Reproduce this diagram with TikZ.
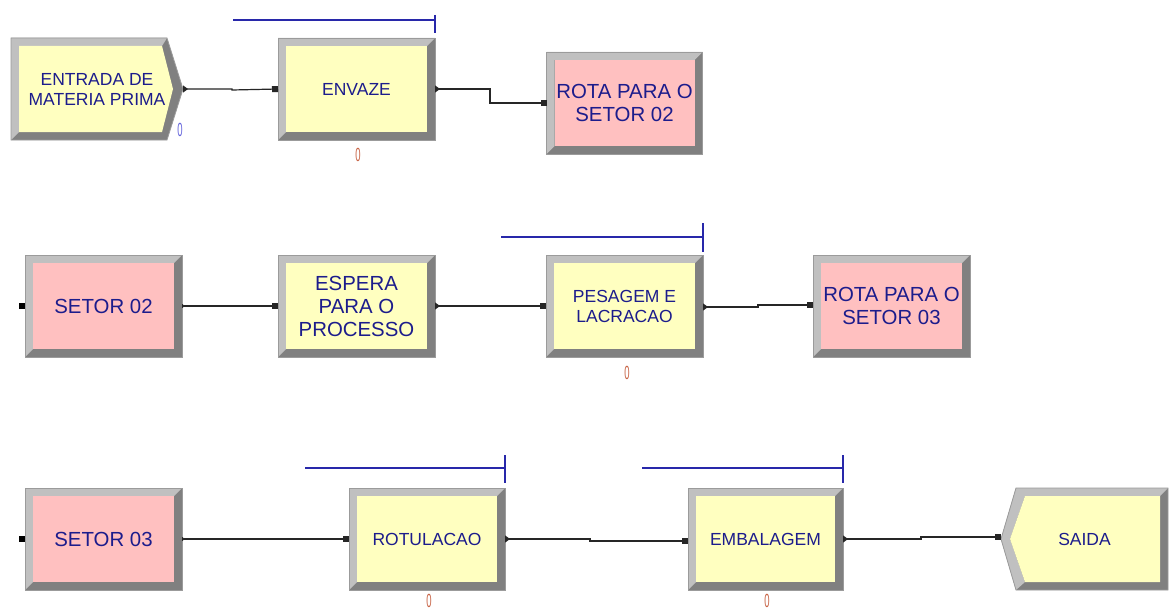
\documentclass[tikz,border=0pt]{standalone}
\usepackage{fontspec}
\setmainfont{Liberation Sans}
\usetikzlibrary{arrows.meta}
\definecolor{yel}{RGB}{255,255,192}
\definecolor{pnk}{RGB}{255,192,192}
\definecolor{ltgray}{RGB}{192,192,192}
\definecolor{dkgray}{RGB}{128,128,128}
\definecolor{edgegray}{RGB}{155,155,155}
\definecolor{txtblue}{RGB}{28,28,140}
\definecolor{qblue}{RGB}{40,40,170}
\definecolor{cntred}{RGB}{200,100,70}
\definecolor{cntblue}{RGB}{100,100,220}
\newcommand\mfsmall{\fontsize{17.5}{20}\selectfont}
\newcommand\mflarge{\fontsize{20.4}{23}\selectfont}
\tikzset{
  module/.style={rectangle, minimum width=157pt, minimum height=102pt, inner sep=0pt, outer sep=0pt,
    text=txtblue, align=center, draw=edgegray, line width=0.8pt,
    path picture={
      \fill[dkgray] (path picture bounding box.south west) rectangle (path picture bounding box.north east);
      \fill[ltgray] (path picture bounding box.south west) -- (path picture bounding box.north west)
        -- (path picture bounding box.north east) -- ([shift={(-8pt,-8pt)}]path picture bounding box.north east)
        -- ([shift={(8pt,-8pt)}]path picture bounding box.north west) -- ([shift={(8pt,8pt)}]path picture bounding box.south west) -- cycle;
      \fill[#1] ([shift={(8pt,8pt)}]path picture bounding box.south west) rectangle ([shift={(-8pt,-8pt)}]path picture bounding box.north east);
    }},
  yelbox/.style={module=yel},
  pnkbox/.style={module=pnk},
  textonly/.style={rectangle, minimum height=102pt, inner sep=0pt, outer sep=0pt, text=txtblue, align=center},
  conn/.style={draw=black!85, line width=1.2pt},
  outtip/.style={{Triangle[reversed,length=5pt,width=7pt]}-{Square[length=6pt,width=6pt]}},
  dottip/.style={{Triangle[reversed,length=3pt,width=4pt]}-{Square[length=6pt,width=6pt]}},
  queue/.style={draw=qblue, line width=1.4pt},
  counter/.style={inner sep=0pt, font=\fontsize{19}{19}\selectfont},
}
\begin{document}
\begin{tikzpicture}[x=1pt,y=-1pt]
\useasboundingbox (0,0) rectangle (1176,610);
\fill[white] (0,0) rectangle (1176,610);

% ---- Row 1 ----
% Create module (pointed right)
\fill[dkgray] (11,38) -- (167,38) -- (183,89) -- (167,140) -- (11,140) -- cycle;
\fill[ltgray] (11,38) -- (167,38) -- (162,46) -- (19,46) -- (19,132) -- (11,140) -- cycle;
\fill[yel] (19,46) -- (162,46) -- (173,89) -- (162,132) -- (19,132) -- cycle;
\draw[edgegray, line width=0.8pt] (11,38) -- (167,38) -- (183,89) -- (167,140) -- (11,140) -- cycle;
\node[textonly, minimum width=172pt, font=\mfsmall] (create) at (97,89) {ENTRADA DE\\MATERIA PRIMA};
\node[counter, text=cntblue] (createcnt) at (180,130) {\scalebox{0.5}[1]{0}};

\node[yelbox, font=\mfsmall] (envaze) at (356.5,89) {ENVAZE};
\node[counter, text=cntred] (envazecnt) at (358,155) {\scalebox{0.5}[1]{0}};
\draw[queue] (233,20) -- (435,20);
\draw[queue] (435,15) -- (435,33);

\node[pnkbox, minimum width=156pt, font=\mflarge] (rota2) at (624.5,103) {ROTA PARA O\\SETOR 02};

\draw[conn, outtip] (create.east) -- (232,89) -- (232,90) -- (envaze.west);
\draw[conn, outtip] (envaze.east) -- ++(55,0) |- (rota2.west);

% ---- Row 2 ----
\node[pnkbox, font=\mflarge] (setor2) at (103.5,306) {SETOR 02};
\fill[black] ([shift={(-6pt,-3pt)}]setor2.west) rectangle ++(6pt,6pt);
\node[yelbox, font=\mflarge] (espera) at (356.5,306) {ESPERA\\PARA O\\PROCESSO};
\node[yelbox, font=\mfsmall] (pesagem) at (624.5,306) {PESAGEM E\\LACRACAO};
\node[counter, text=cntred] (pesagemcnt) at (627,373) {\scalebox{0.5}[1]{0}};
\draw[queue] (501,237) -- (703,237);
\draw[queue] (703,223) -- (703,252);
\node[pnkbox, font=\mflarge] (rota3) at (891.5,306) {ROTA PARA O\\SETOR 03};

\draw[conn, dottip] (setor2.east) -- (espera.west);
\draw[conn, outtip] (espera.east) -- (pesagem.west);
\draw[conn, outtip] ([yshift=-1pt]pesagem.east) -- ++(55,0) |- ([yshift=1pt]rota3.west);

% ---- Row 3 ----
\node[pnkbox, font=\mflarge] (setor3) at (103.5,539) {SETOR 03};
\fill[black] ([shift={(-6pt,-3pt)}]setor3.west) rectangle ++(6pt,6pt);
\node[yelbox, minimum width=156pt, font=\mfsmall] (rotulacao) at (427,539) {ROTULACAO};
\node[counter, text=cntred] (rotulacaocnt) at (429,601) {\scalebox{0.5}[1]{0}};
\draw[queue] (305,468) -- (505,468);
\draw[queue] (505,455) -- (505,483);
\node[yelbox, minimum width=155pt, font=\mfsmall] (embalagem) at (765.5,539) {EMBALAGEM};
\node[counter, text=cntred] (embalagemcnt) at (767,601) {\scalebox{0.5}[1]{0}};
\draw[queue] (642,468) -- (843,468);
\draw[queue] (843,455) -- (843,483);

% Dispose module (notched left)
\fill[dkgray] (1016,488) -- (1168,488) -- (1168,590) -- (1016,590) -- (1001,539) -- cycle;
\fill[ltgray] (1016,488) -- (1168,488) -- (1160,496) -- (1025,496) -- (1010,539) -- (1025,582) -- (1016,590) -- (1001,539) -- cycle;
\fill[yel] (1025,496) -- (1160,496) -- (1160,582) -- (1025,582) -- (1010,539) -- cycle;
\draw[edgegray, line width=0.8pt] (1016,488) -- (1168,488) -- (1168,590) -- (1016,590) -- (1001,539) -- cycle;
\node[textonly, minimum width=167pt, font=\mfsmall] (saida) at (1084.5,539) {SAIDA};

\draw[conn, dottip] (setor3.east) -- (rotulacao.west);
\draw[conn, outtip] (rotulacao.east) -- ++(85,0) |- ([yshift=-2pt]embalagem.west);
\draw[conn, outtip] (embalagem.east) -- ++(78,0) |- ([yshift=2pt]saida.west);
\end{tikzpicture}
\end{document}
